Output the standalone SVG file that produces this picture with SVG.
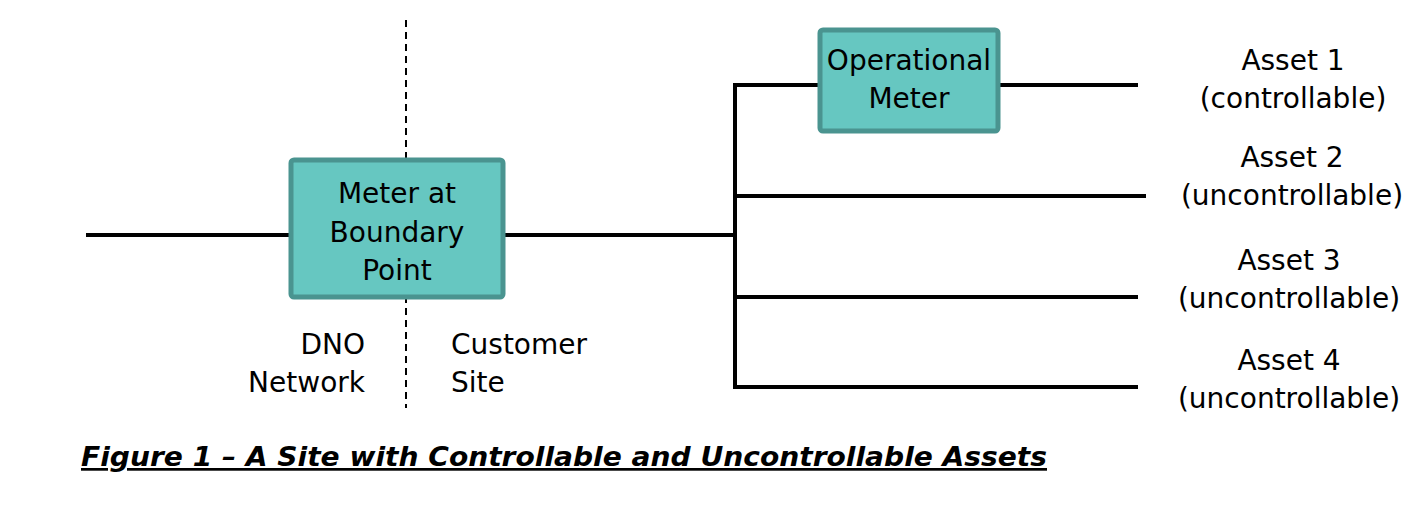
<svg xmlns="http://www.w3.org/2000/svg" width="1427" height="512" viewBox="0 0 1427 512">
<style>
.t{font-family:"DejaVu Sans","Liberation Sans",sans-serif;font-size:28px;fill:#000}
.box{fill:#66c7c1;stroke:#4a9490;stroke-width:5}
.w{stroke:#000;stroke-width:4;fill:none}
.cap{font-family:"DejaVu Sans","Liberation Sans",sans-serif;font-size:27px;font-weight:bold;font-style:italic;text-decoration:underline;fill:#000}
</style>
<rect width="1427" height="512" fill="#fff"/>
<g id="connectors">
<line x1="406" y1="20" x2="406" y2="408" stroke="#000" stroke-width="2" stroke-dasharray="7,5"/>
<line class="w" x1="86" y1="235" x2="291" y2="235"/>
<line class="w" x1="503" y1="235" x2="735" y2="235"/>
<line class="w" x1="735" y1="83" x2="735" y2="389"/>
<line class="w" x1="733" y1="85" x2="820" y2="85"/>
<line class="w" x1="998" y1="85" x2="1138" y2="85"/>
<line class="w" x1="733" y1="196" x2="1146" y2="196"/>
<line class="w" x1="733" y1="297" x2="1138" y2="297"/>
<line class="w" x1="733" y1="387" x2="1138" y2="387"/>
</g>
<g id="meter-boundary">
<rect class="box" x="291" y="160" width="212" height="137" rx="3"/>
<text class="t" text-anchor="middle" x="397" y="203">Meter at</text>
<text class="t" text-anchor="middle" x="397" y="242">Boundary</text>
<text class="t" text-anchor="middle" x="397" y="280">Point</text>
</g>
<g id="operational-meter">
<rect class="box" x="820" y="30" width="178" height="101" rx="3"/>
<text class="t" text-anchor="middle" x="909" y="70">Operational</text>
<text class="t" text-anchor="middle" x="909" y="108">Meter</text>
</g>
<g id="dno">
<text class="t" text-anchor="end" x="365" y="354">DNO</text>
<text class="t" text-anchor="end" x="365" y="392">Network</text>
</g>
<g id="customer">
<text class="t" x="451" y="354">Customer</text>
<text class="t" x="451" y="392">Site</text>
</g>
<g id="asset1">
<text class="t" text-anchor="middle" x="1293" y="70">Asset 1</text>
<text class="t" text-anchor="middle" x="1293" y="108">(controllable)</text>
</g>
<g id="asset2">
<text class="t" text-anchor="middle" x="1292" y="167">Asset 2</text>
<text class="t" text-anchor="middle" x="1292" y="205">(uncontrollable)</text>
</g>
<g id="asset3">
<text class="t" text-anchor="middle" x="1289" y="270">Asset 3</text>
<text class="t" text-anchor="middle" x="1289" y="308">(uncontrollable)</text>
</g>
<g id="asset4">
<text class="t" text-anchor="middle" x="1289" y="370">Asset 4</text>
<text class="t" text-anchor="middle" x="1289" y="408">(uncontrollable)</text>
</g>
<text class="cap" x="81" y="466" textLength="966" lengthAdjust="spacingAndGlyphs">Figure 1 – A Site with Controllable and Uncontrollable Assets</text>
</svg>
